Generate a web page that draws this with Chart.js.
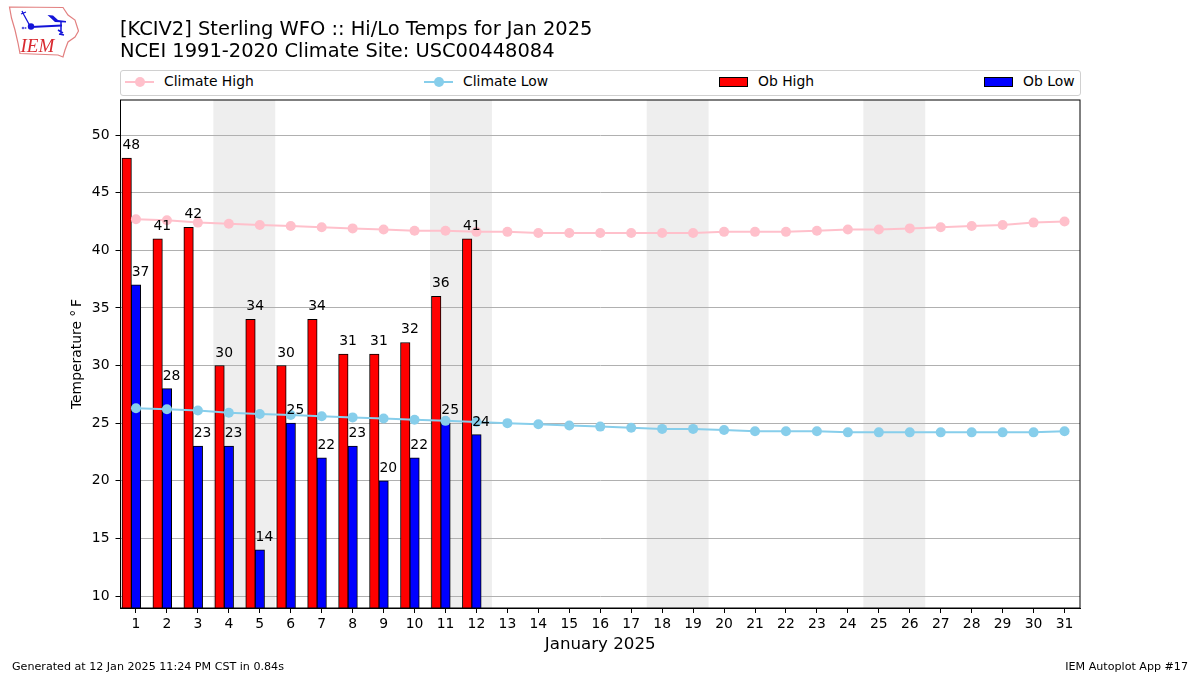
<!DOCTYPE html>
<html><head><meta charset="utf-8">
<script src="https://cdn.jsdelivr.net/npm/chart.js@4/dist/chart.umd.min.js"></script>
<style>
html,body{margin:0;padding:0;background:#fff;}
body{width:1200px;height:675px;position:relative;overflow:hidden;font-family:"DejaVu Sans",sans-serif;color:#000;}
canvas{position:absolute;left:0;top:0;}
.t{position:absolute;white-space:nowrap;line-height:1;}
#legend{position:absolute;left:120px;top:70px;width:959px;height:24px;border:1px solid #d0d0d0;border-radius:3px;background:#fff;}
.ln{position:absolute;height:2px;top:81px;}
.mk{position:absolute;width:10px;height:10px;border-radius:50%;top:77px;}
.pt{position:absolute;width:27px;height:8px;top:77px;border:1px solid #000;box-sizing:content-box;}
</style></head><body>
<canvas id="c" width="1200" height="675"></canvas>
<svg style="position:absolute;left:0;top:0" width="90" height="65" viewBox="0 0 90 65">
<path d="M9.5 7 L63 7.5 L68 15 L75 20 L78.500 31 L75 37 L68 42 L65 50 L63 57 L58 55 L20 53.500 L18 43 L15 30 L11.500 18 Z" fill="#fff" stroke="#e28080" stroke-width="1.2"/>
<g stroke="#1414d8" fill="none">
<path d="M31 27 L62 25.500" stroke-width="2"/>
<path d="M30 26 L24 15 L22 11 M21 14 L26 12" stroke-width="1.3"/>
<path d="M61 22 L61 35 M58 30 L63 33 M59 34 L64 35" stroke-width="1.500"/>
</g>
<circle cx="31" cy="26.500" r="3.200" fill="#1414d8"/>
<path d="M47.500 15 L53 15.500 L58 20 L66 21 L66 22.500 L55 22 Z" fill="#1414d8"/>
<circle cx="23" cy="28" r="1.300" fill="#5a5ae0"/><circle cx="25.500" cy="28" r="1" fill="#5a5ae0"/>
<text x="20.500" y="52" font-family="Liberation Serif" font-style="italic" font-size="19" fill="#d8282f">IEM</text>
</svg>
<div class="t" style="left:120px;top:19px;font-size:19.44px">[KCIV2] Sterling WFO :: Hi/Lo Temps for Jan 2025</div>
<div class="t" style="left:120px;top:41px;font-size:19.44px">NCEI 1991-2020 Climate Site: USC00448084</div>
<div id="legend"></div>
<div class="ln" style="left:125px;width:29px;background:#ffc0cb"></div><div class="mk" style="left:134.500px;background:#ffc0cb"></div>
<div class="t" style="left:164px;top:74.500px;font-size:13.9px">Climate High</div>
<div class="ln" style="left:424px;width:29px;background:#87ceeb"></div><div class="mk" style="left:433.500px;background:#87ceeb"></div>
<div class="t" style="left:463px;top:74.500px;font-size:13.9px">Climate Low</div>
<div class="pt" style="left:719px;background:#f00"></div>
<div class="t" style="left:758px;top:74.500px;font-size:13.9px">Ob High</div>
<div class="pt" style="left:984px;background:#00f"></div>
<div class="t" style="left:1023px;top:74.500px;font-size:13.9px">Ob Low</div>
<div class="t" style="left:12px;top:661px;font-size:11.12px">Generated at 12 Jan 2025 11:24 PM CST in 0.84s</div>
<div class="t" style="right:12px;top:661px;font-size:11.12px">IEM Autoplot App #17</div>
<script>
const days = [1,2,3,4,5,6,7,8,9,10,11,12,13,14,15,16,17,18,19,20,21,22,23,24,25,26,27,28,29,30,31];
const obDays = [1,2,3,4,5,6,7,8,9,10,11,12];
const obHigh = [48,41,42,30,34,30,34,31,31,32,36,41];
const obLow = [37,28,23,23,14,25,22,23,20,22,25,24];
const climateHigh = [42.7,42.6,42.4,42.3,42.2,42.1,42.0,41.9,41.8,41.7,41.7,41.6,41.6,41.5,41.5,41.5,41.5,41.5,41.5,41.6,41.6,41.6,41.7,41.8,41.8,41.9,42.0,42.1,42.2,42.4,42.5];
const climateLow = [26.3,26.2,26.1,25.9,25.8,25.7,25.6,25.5,25.4,25.3,25.2,25.1,25.0,24.9,24.8,24.7,24.6,24.5,24.5,24.4,24.3,24.3,24.3,24.2,24.2,24.2,24.2,24.2,24.2,24.2,24.3];
const weekends = [[3.5,5.5],[10.5,12.5],[17.5,19.5],[24.5,26.5]];
const FONT = '"DejaVu Sans"';

const decor = {
  id:'decor',
  beforeDraw(ch){
    const {ctx,chartArea:a,scales:{x}} = ch;
    ctx.save();ctx.fillStyle='#eeeeee';
    weekends.forEach(w=>{const l=x.getPixelForValue(w[0]),r=x.getPixelForValue(w[1]);ctx.fillRect(l,a.top,r-l,a.bottom-a.top);});
    ctx.restore();
  },
  afterDatasetsDraw(ch){
    const {ctx,scales:{x,y},chartArea:a} = ch;
    ctx.save();
    ctx.strokeStyle='#000';ctx.lineWidth=1;
    ctx.strokeRect(a.left,a.top,a.right-a.left,a.bottom-a.top);
    ctx.fillStyle='#000';ctx.font='13.9px '+FONT;ctx.textAlign='center';ctx.textBaseline='alphabetic';
    obDays.forEach((d,i)=>{
      ctx.fillText(String(obHigh[i]),x.getPixelForValue(d-0.15),y.getPixelForValue(obHigh[i])-9);
      ctx.fillText(String(obLow[i]),x.getPixelForValue(d+0.15),y.getPixelForValue(obLow[i])-9);
    });
    ctx.restore();
  }
};

new Chart(document.getElementById('c'),{
  data:{datasets:[
    {type:'line',label:'Climate High',data:days.map((d,i)=>({x:d,y:climateHigh[i]})),borderColor:'#ffc0cb',backgroundColor:'#ffc0cb',borderWidth:2,pointRadius:5,pointBorderWidth:0,tension:0,order:1},
    {type:'line',label:'Climate Low',data:days.map((d,i)=>({x:d,y:climateLow[i]})),borderColor:'#87ceeb',backgroundColor:'#87ceeb',borderWidth:2,pointRadius:5,pointBorderWidth:0,tension:0,order:1},
    {type:'bar',label:'Ob High',data:obDays.map((d,i)=>({x:d-0.3,y:obHigh[i]})),backgroundColor:'#ff0000',borderColor:'#000',borderWidth:1,borderSkipped:false,barThickness:9.5,grouped:false,order:2},
    {type:'bar',label:'Ob Low',data:obDays.map((d,i)=>({x:d,y:obLow[i]})),backgroundColor:'#0000ff',borderColor:'#000',borderWidth:1,borderSkipped:false,barThickness:9.5,grouped:false,order:2}
  ]},
  options:{
    responsive:false,animation:false,devicePixelRatio:1,
    layout:{padding:{left:60,right:120,top:100,bottom:0}},
    plugins:{legend:{display:false},tooltip:{enabled:false},title:{display:false}},
    scales:{
      x:{type:'linear',min:0.5,max:31.5,offset:false,
        afterBuildTicks(s){s.ticks=days.map(v=>({value:v}));},
        afterFit(s){s.height=67;},
        grid:{display:true,offset:false,drawOnChartArea:false,drawTicks:true,tickLength:5,tickColor:'#000',lineWidth:1},
        border:{display:true,color:'#000',width:1},
        ticks:{autoSkip:false,maxRotation:0,minRotation:0,padding:3,color:'#000',font:{family:FONT,size:13.9}},
        title:{display:true,text:'January 2025',color:'#000',font:{family:FONT,size:16.67},padding:{top:0,bottom:20}}
      },
      y:{type:'linear',min:8.96,max:53.04,
        afterFit(s){s.width=60.5;},
        grid:{color:'#b0b0b0',lineWidth:1,tickColor:'#000',tickLength:5},
        border:{display:true,color:'#000',width:1},
        ticks:{stepSize:5,includeBounds:false,padding:6,color:'#000',font:{family:FONT,size:13.9}},
        title:{display:true,text:'Temperature °\u2009F',color:'#000',font:{family:FONT,size:13.9},padding:{top:9,bottom:0}}
      }
    }
  },
  plugins:[decor]
});
</script>
</body></html>
